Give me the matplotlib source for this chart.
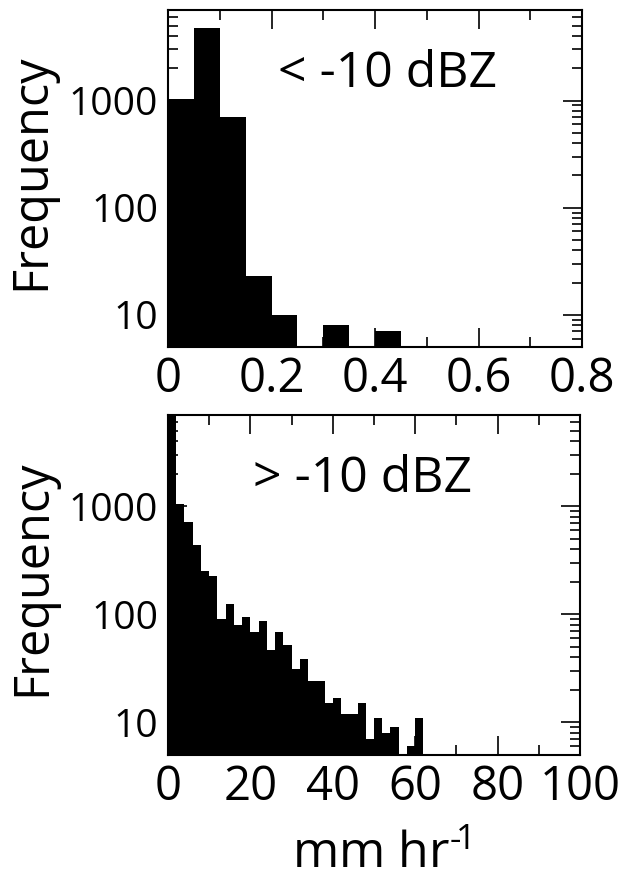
import numpy as np
import matplotlib.pyplot as plt
from matplotlib.ticker import FixedLocator, LogLocator, MultipleLocator, NullFormatter, FuncFormatter

plt.rcParams['font.family'] = ['Open Sans', 'DejaVu Sans']
plt.rcParams['mathtext.fontset'] = 'custom'
plt.rcParams['mathtext.rm'] = 'Open Sans'

# Rain rate histogram for echoes weaker than -10 dBZ (0.05 mm/hr bins)
weak_width = 0.05
weak_counts = [1040, 4800, 700, 23, 10, 0, 8, 0, 7]

# Rain rate histogram for echoes stronger than -10 dBZ (2 mm/hr bins)
strong_width = 2
strong_counts = [7400, 1060, 720, 440, 250, 225, 91, 126, 79, 95,
                 69, 86, 47, 69, 52, 31, 39, 24, 24, 15,
                 17, 12, 12, 15, 7, 11, 8, 9, 0, 6, 11]

y_ticks = [10, 100, 1000]


def draw_hist(ax, counts, width, xmax, xmajor, xminor, label, label_x):
    lefts = np.arange(len(counts)) * width
    ax.bar(lefts, counts, width=width, align='edge', color='black', linewidth=0)
    ax.set_yscale('log')
    ax.set_ylim(5, 7000)
    ax.set_xlim(0, xmax)

    ax.xaxis.set_major_locator(MultipleLocator(xmajor))
    ax.xaxis.set_minor_locator(MultipleLocator(xminor))
    ax.xaxis.set_major_formatter(FuncFormatter(lambda v, p: '%g' % round(v, 3)))
    ax.yaxis.set_major_locator(FixedLocator(y_ticks))
    ax.yaxis.set_major_formatter(FuncFormatter(lambda v, p: '%d' % v))
    ax.yaxis.set_minor_locator(LogLocator(base=10, subs=np.arange(2, 10)))
    ax.yaxis.set_minor_formatter(NullFormatter())

    ax.tick_params(which='both', direction='in', top=True, right=True, width=1.2)
    ax.tick_params(which='major', length=14)
    ax.tick_params(which='minor', length=7)
    ax.tick_params(axis='x', labelsize=34, pad=6)
    ax.tick_params(axis='y', labelsize=28, pad=7)
    for s in ax.spines.values():
        s.set_linewidth(1.5)

    ax.set_ylabel('Frequency', fontsize=35)
    ax.yaxis.set_label_coords(-0.27, 0.52)
    ax.text(label_x, 0.81, label, transform=ax.transAxes, fontsize=36,
            ha='left', va='center')


fig = plt.figure(figsize=(6.28, 8.8), dpi=100)
ax1 = fig.add_axes([168 / 628, 1 - 347 / 880, 414 / 628, 337 / 880])
ax2 = fig.add_axes([168 / 628, 1 - 755 / 880, 412 / 628, 340 / 880])

draw_hist(ax1, weak_counts, weak_width, 0.8, 0.2, 0.1, '< -10 dBZ', 0.266)
draw_hist(ax2, strong_counts, strong_width, 100, 20, 10, '> -10 dBZ', 0.206)

# unit label with a raised exponent
fig.text(292 / 628, 1 - 868 / 880, 'mm hr$^{\\mathrm{\u2010}\\!\\mathrm{1}}$',
         fontsize=36, ha='left', va='baseline')

fig.savefig('out.png', dpi=100)
